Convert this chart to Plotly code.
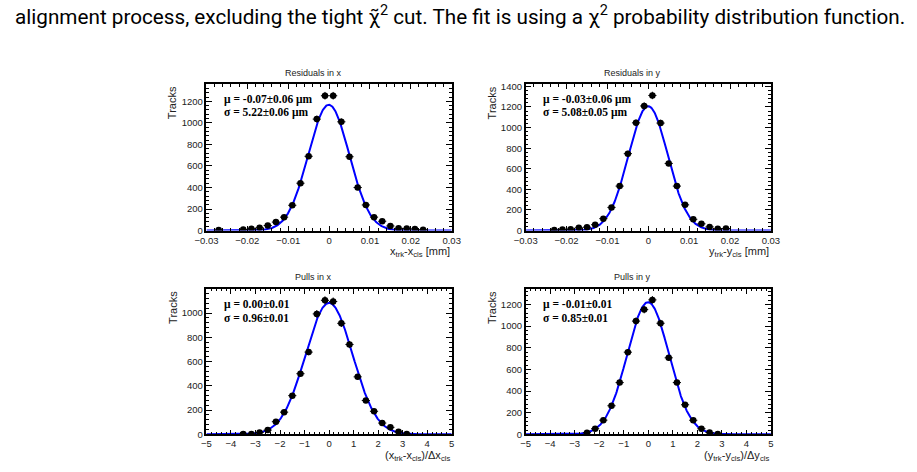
import numpy as np
import plotly.graph_objects as go

# ---------------- data ----------------
res_x_centers = [-0.027, -0.021, -0.019, -0.017, -0.015, -0.013, -0.011, -0.009, -0.007, -0.005,
                 -0.003, -0.001, 0.001, 0.003, 0.005, 0.007, 0.009, 0.011, 0.013, 0.015,
                 0.017, 0.019, 0.021, 0.023]
res_x_counts = [5, 10, 18, 27, 47, 79, 125, 235, 440, 690,
                1035, 1252, 1252, 1010, 686, 400, 238, 125, 87, 43,
                22, 20, 16, 8]

res_y_centers = [-0.023, -0.021, -0.019, -0.017, -0.015, -0.013, -0.011, -0.009, -0.007, -0.005,
                 -0.003, -0.001, 0.001, 0.003, 0.005, 0.007, 0.009, 0.011, 0.013, 0.015,
                 0.017, 0.019]
res_y_counts = [5, 10, 14, 27, 33, 57, 116, 225, 432, 747,
                1046, 1210, 1312, 1044, 652, 432, 250, 110, 66, 36,
                18, 20]

pull_x_centers = [-3.5, -3.167, -2.833, -2.5, -2.167, -1.833, -1.5, -1.167, -0.833, -0.5,
                  -0.167, 0.167, 0.5, 0.833, 1.167, 1.5, 1.833, 2.167, 2.5, 2.833, 3.167]
pull_x_counts = [2, 3, 16, 35, 104, 183, 319, 500, 678, 993,
                 1105, 1095, 915, 741, 474, 279, 190, 93, 58, 22, 3]

pull_y_centers = [-2.5, -2.167, -1.833, -1.5, -1.167, -0.833, -0.5, -0.167, 0.167, 0.5,
                  0.833, 1.167, 1.5, 1.833, 2.167, 2.5, 2.833]
pull_y_counts = [15, 52, 131, 264, 478, 759, 1046, 1152, 1242, 1026,
                 707, 478, 273, 130, 52, 17, 2]

# Gaussian fit parameters (amplitude, mean, sigma)
fit_res_x = (1168, -0.00007, 0.0050)
fit_res_y = (1208, -0.00003, 0.0048)
fit_pull_x = (1084, 0.0, 0.96)
fit_pull_y = (1221, -0.01, 0.85)

titles = ["Residuals in x", "Residuals in y", "Pulls in x", "Pulls in y"]
stat_mu = ["μ = -0.07±0.06 μm", "μ = -0.03±0.06 μm", "μ = 0.00±0.01", "μ = -0.01±0.01"]
stat_sigma = ["σ = 5.22±0.06 μm", "σ = 5.08±0.05 μm", "σ = 0.96±0.01", "σ = 0.85±0.01"]
xtitles = ["x<sub>trk</sub>-x<sub>cls</sub> [mm]", "y<sub>trk</sub>-y<sub>cls</sub> [mm]",
           "(x<sub>trk</sub>-x<sub>cls</sub>)/Δx<sub>cls</sub>",
           "(y<sub>trk</sub>-y<sub>cls</sub>)/Δy<sub>cls</sub>"]
caption = ("alignment process, excluding the tight χ̃<sup>2</sup> cut. The fit is using a "
           "χ<sup>2</sup> probability distribution function.")

# ---------------- layout geometry (pixels) ----------------
W, H = 917, 472
def px(x):
    return x / W
def py(y):
    return 1 - y / H

panels = [
    dict(x0=199, x1=450, y0=82, y1=231, xr=[-0.03, 0.03], yr=[0, 1357], dt=0.01, mdt=0.002,
         bw=0.002, fit=fit_res_x, xs=res_x_centers, ys=res_x_counts, tx=308.5, ty=70),
    dict(x0=525.7, x1=776.7, y0=82, y1=231, xr=[-0.03, 0.03], yr=[0, 1419], dt=0.01, mdt=0.002,
         bw=0.002, fit=fit_res_y, xs=res_y_centers, ys=res_y_counts, tx=635.5, ty=70),
    dict(x0=199, x1=450, y0=290.7, y1=438.7, xr=[-5, 5], yr=[0, 1197], dt=1, mdt=0.2,
         bw=1/3, fit=fit_pull_x, xs=pull_x_centers, ys=pull_x_counts, tx=309, ty=278.5),
    dict(x0=525.7, x1=776.7, y0=290.7, y1=438.7, xr=[-5, 5], yr=[0, 1341], dt=1, mdt=0.2,
         bw=1/3, fit=fit_pull_y, xs=pull_y_centers, ys=pull_y_counts, tx=635.5, ty=278.5),
]

fig = go.Figure()
annotations = []
layout = {}
sans = "Liberation Sans, Arial, sans-serif"
tickfont = dict(family=sans, size=9.5, color="#222")

for i, p in enumerate(panels):
    n = "" if i == 0 else str(i + 1)
    xa, ya = "x" + n, "y" + n
    A, mu, s = p["fit"]
    xf = np.linspace(p["xr"][0], p["xr"][1], 600)
    yf = A * np.exp(-0.5 * ((xf - mu) / s) ** 2)
    fig.add_trace(go.Scatter(x=xf, y=yf, mode="lines", line=dict(color="#0000ff", width=2),
                             xaxis=xa, yaxis=ya, hoverinfo="skip"))
    counts = np.array(p["ys"], dtype=float)
    fig.add_trace(go.Scatter(
        x=p["xs"], y=p["ys"], mode="markers",
        marker=dict(color="black", size=6.5, symbol="circle"),
        error_y=dict(type="data", array=np.sqrt(counts), color="black", thickness=1, width=0),
        error_x=dict(type="constant", value=p["bw"] / 2, color="black", thickness=1, width=0),
        xaxis=xa, yaxis=ya))

    layout["xaxis" + n] = dict(
        domain=[px(p["x0"]), px(p["x1"])], anchor=ya, range=p["xr"],
        showline=True, linecolor="black", linewidth=1.5, mirror="allticks",
        ticks="inside", ticklen=5, tickwidth=1, tickcolor="black",
        dtick=p["dt"], tick0=0,
        minor=dict(ticks="inside", ticklen=2.5, dtick=p["mdt"], tickcolor="black", tickwidth=1),
        showgrid=False, zeroline=False, tickfont=tickfont)
    layout["yaxis" + n] = dict(
        domain=[py(p["y1"]), py(p["y0"])], anchor=xa, range=p["yr"],
        showline=True, linecolor="black", linewidth=1.5, mirror="allticks",
        ticks="inside", ticklen=6, tickwidth=1, tickcolor="black",
        dtick=200, tick0=0,
        minor=dict(ticks="inside", ticklen=3, dtick=40, tickcolor="black", tickwidth=1),
        showgrid=False, zeroline=False, tickfont=tickfont)

    # panel title
    annotations.append(dict(x=px(p["tx"]), y=py(p["ty"]), xref="paper", yref="paper",
                            text=titles[i], showarrow=False, xanchor="center", yanchor="middle",
                            font=dict(family=sans, size=9, color="#222")))
    # y title
    annotations.append(dict(x=px(p["x0"] - 35), y=py(p["y0"]), xref="paper", yref="paper",
                            text="Tracks", textangle=-90, showarrow=False,
                            xanchor="center", yanchor="top",
                            font=dict(family=sans, size=11, color="#222")))
    # x title
    annotations.append(dict(x=px(p["x1"]), y=py(p["y1"] + 13), xref="paper", yref="paper",
                            text=xtitles[i], showarrow=False, xanchor="right", yanchor="top",
                            font=dict(family=sans, size=11, color="#222")))
    # stats
    for k, t in enumerate([stat_mu[i], stat_sigma[i]]):
        annotations.append(dict(x=px(p["x0"] + 15.5), y=py(p["y0"] + 15.5 + 13.5 * k),
                                xref="paper", yref="paper", text="<b>" + t + "</b>",
                                showarrow=False, xanchor="left", yanchor="middle",
                                font=dict(family="Liberation Serif, Times New Roman, serif",
                                          size=11.5, color="black")))

annotations.append(dict(x=px(1), y=py(12), xref="paper", yref="paper", text=caption,
                        showarrow=False, xanchor="left", yanchor="middle",
                        font=dict(family="Roboto, sans-serif", size=20.7, color="black")))

fig.update_layout(width=W, height=H, margin=dict(l=0, r=0, t=0, b=0),
                  paper_bgcolor="white", plot_bgcolor="white", showlegend=False,
                  annotations=annotations, **layout)

fig.write_html("out.html")
